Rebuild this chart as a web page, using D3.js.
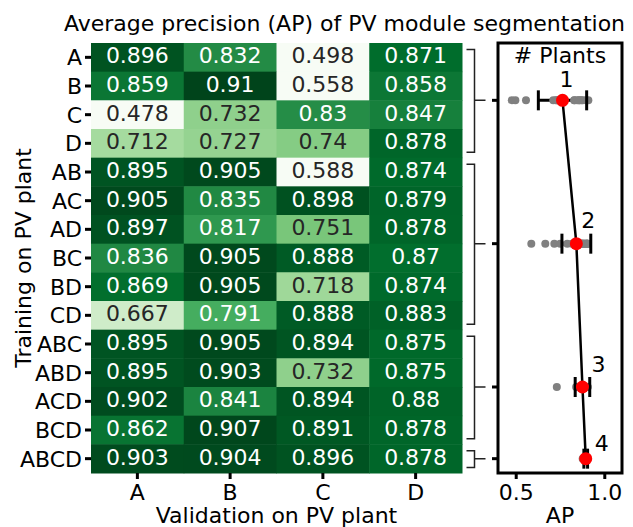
<!DOCTYPE html>
<html>
<head>
<meta charset="utf-8">
<script src="https://cdn.jsdelivr.net/npm/d3@7"></script>
<style>
  body { margin: 0; background: #fff; }
  svg { font-family: "DejaVu Sans", sans-serif; }
</style>
</head>
<body>
<div id="chart"></div>
<script>
// training sets (rows) and validation plants (columns)
const trainSets = ['A','B','C','D','AB','AC','AD','BC','BD','CD','ABC','ABD','ACD','BCD','ABCD'];
const valPlants = ['A','B','C','D'];

// AP per validation plant, one value per training set
const apA = [0.896,0.859,0.478,0.712,0.895,0.905,0.897,0.836,0.869,0.667,0.895,0.895,0.902,0.862,0.903];
const apB = [0.832,0.91,0.732,0.727,0.905,0.835,0.817,0.905,0.905,0.791,0.905,0.903,0.841,0.907,0.904];
const apC = [0.498,0.558,0.83,0.74,0.588,0.898,0.751,0.888,0.718,0.888,0.894,0.732,0.894,0.891,0.896];
const apD = [0.871,0.858,0.847,0.878,0.874,0.879,0.878,0.87,0.874,0.883,0.875,0.875,0.88,0.878,0.878];

const numPlants = [1,2,3,4];

const W = 633, H = 527;
const fs = 22;
const hm = {l: 91, r: 462, t: 43, b: 473};
const rp = {l: 498, r: 622};

const cols = [apA, apB, apC, apD];
const cells = [];
trainSets.forEach((t, i) => valPlants.forEach((v, j) => cells.push({row: t, col: v, val: cols[j][i]})));

const svg = d3.select('#chart').append('svg').attr('width', W).attr('height', H);

const x = d3.scaleBand().domain(valPlants).range([hm.l, hm.r]);
const y = d3.scaleBand().domain(trainSets).range([hm.t, hm.b]);

// Greens colormap, clipped below vmin
const vmin = 0.6, vmax = d3.max(cells, d => d.val);
const greens = d3.schemeGreens[9];
const color = d3.scaleLinear()
    .domain(d3.range(9).map(k => vmin + k * (vmax - vmin) / 8))
    .range(greens).clamp(true);

function lum(c) {
    const rgb = d3.rgb(c);
    const f = v => { v /= 255; return v <= 0.03928 ? v / 12.92 : Math.pow((v + 0.055) / 1.055, 2.4); };
    return 0.2126 * f(rgb.r) + 0.7152 * f(rgb.g) + 0.0722 * f(rgb.b);
}

// heatmap cells
const g = svg.append('g');
g.selectAll('rect').data(cells).enter().append('rect')
    .attr('x', d => x(d.col)).attr('y', d => y(d.row))
    .attr('width', x.bandwidth() + 0.5).attr('height', y.bandwidth() + 0.5)
    .attr('fill', d => color(d.val));
g.selectAll('text').data(cells).enter().append('text')
    .attr('x', d => x(d.col) + x.bandwidth() / 2)
    .attr('y', d => y(d.row) + y.bandwidth() / 2)
    .attr('dy', '0.27em').attr('text-anchor', 'middle')
    .attr('font-size', fs)
    .attr('fill', d => lum(color(d.val)) > 0.408 ? '#262626' : '#ffffff')
    .text(d => String(d.val));

// heatmap axes
const axL = svg.append('g').attr('transform', `translate(${hm.l},0)`)
    .call(d3.axisLeft(y).tickSize(6).tickPadding(3));
const axB = svg.append('g').attr('transform', `translate(0,${hm.b})`)
    .call(d3.axisBottom(x).tickSize(6).tickPadding(5));
[axL, axB].forEach(a => {
    a.select('.domain').remove();
    a.selectAll('line').attr('stroke', '#000').attr('stroke-width', 3);
    a.selectAll('text').attr('font-size', fs).attr('fill', '#000').attr('font-family', 'DejaVu Sans');
});
axL.selectAll('text').attr('dy', '0.36em');
axB.selectAll('text').attr('dy', '0.71em');

svg.append('text').attr('x', (hm.l + hm.r) / 2).attr('y', 523)
    .attr('text-anchor', 'middle').attr('font-size', fs).text('Validation on PV plant');
svg.append('text').attr('transform', `translate(31,${(hm.t + hm.b) / 2}) rotate(-90)`)
    .attr('text-anchor', 'middle').attr('font-size', fs).text('Training on PV plant');
svg.append('text').attr('x', 344.5).attr('y', 31)
    .attr('text-anchor', 'middle').attr('font-size', fs).text('Average precision (AP) of PV module segmentation');

// groups by number of plants in training set
const groups = numPlants.map(n => {
    const rows = trainSets.filter(t => t.length === n);
    const vals = [];
    rows.forEach(r => { const i = trainSets.indexOf(r); cols.forEach(c => vals.push(c[i])); });
    const mean = d3.mean(vals);
    const sd = Math.sqrt(d3.mean(vals, v => (v - mean) * (v - mean)));
    const y0 = y(rows[0]), y1 = y(rows[rows.length - 1]) + y.bandwidth();
    return {n, rows, vals, mean, sd, y0, y1, cy: (y0 + y1) / 2};
});

// brackets
const br = svg.append('g').attr('stroke', '#222').attr('stroke-width', 1.5).attr('fill', 'none');
groups.forEach(gr => {
    const a = gr.y0 + 6.5, b = gr.y1 - 5.5;
    br.append('path').attr('d', `M466.5,${a}H474.5V${b}H466.5M474.5,${gr.cy}H485.5`);
});

// right panel
const px = d3.scaleLinear().domain([0.4, 1.1]).range([rp.l, rp.r]);
const rpg = svg.append('g');

// error bars
groups.forEach(gr => {
    rpg.append('line').attr('x1', px(gr.mean - gr.sd)).attr('x2', px(gr.mean + gr.sd))
        .attr('y1', gr.cy).attr('y2', gr.cy).attr('stroke', '#000').attr('stroke-width', 3);
});
// individual values
groups.forEach(gr => {
    rpg.selectAll(null).data(gr.vals).enter().append('circle')
        .attr('cx', v => px(v)).attr('cy', gr.cy).attr('r', 4).attr('fill', '#808080');
});
// caps
groups.forEach(gr => {
    [gr.mean - gr.sd, gr.mean + gr.sd].forEach(v => {
        rpg.append('line').attr('x1', px(v)).attr('x2', px(v))
            .attr('y1', gr.cy - 10).attr('y2', gr.cy + 10).attr('stroke', '#000').attr('stroke-width', 3);
    });
});
// mean line
rpg.append('path').datum(groups)
    .attr('d', d3.line().x(d => px(d.mean)).y(d => d.cy))
    .attr('fill', 'none').attr('stroke', '#000').attr('stroke-width', 2.5);
rpg.selectAll('.mean').data(groups).enter().append('circle')
    .attr('cx', d => px(d.mean)).attr('cy', d => d.cy).attr('r', 6.5).attr('fill', 'red');

const numOffsets = [[4, -13], [12, -16], [16, -15], [16, -8]];
rpg.selectAll('.num').data(groups).enter().append('text')
    .attr('x', (d, i) => px(d.mean) + numOffsets[i][0])
    .attr('y', (d, i) => d.cy + numOffsets[i][1])
    .attr('text-anchor', 'middle').attr('font-size', fs).text(d => d.n);

// right panel axes
const pax = svg.append('g').attr('transform', `translate(0,${hm.b})`)
    .call(d3.axisBottom(px).tickValues([0.5, 1.0]).tickFormat(d3.format('.1f')).tickSize(6).tickPadding(5));
pax.select('.domain').remove();
pax.selectAll('line').attr('stroke', '#000').attr('stroke-width', 3);
pax.selectAll('text').attr('font-size', fs).attr('fill', '#000').attr('dy', '0.71em').attr('font-family', 'DejaVu Sans');

svg.append('g').selectAll('line').data(groups).enter().append('line')
    .attr('x1', rp.l - 6).attr('x2', rp.l).attr('y1', d => d.cy).attr('y2', d => d.cy)
    .attr('stroke', '#000').attr('stroke-width', 3);

svg.append('rect').attr('x', rp.l).attr('y', hm.t).attr('width', rp.r - rp.l).attr('height', hm.b - hm.t)
    .attr('fill', 'none').attr('stroke', '#000').attr('stroke-width', 3);

svg.append('text').attr('x', (rp.l + rp.r) / 2).attr('y', 63)
    .attr('text-anchor', 'middle').attr('font-size', fs).text('# Plants');
svg.append('text').attr('x', (rp.l + rp.r) / 2).attr('y', 523)
    .attr('text-anchor', 'middle').attr('font-size', fs).text('AP');
</script>
</body>
</html>
